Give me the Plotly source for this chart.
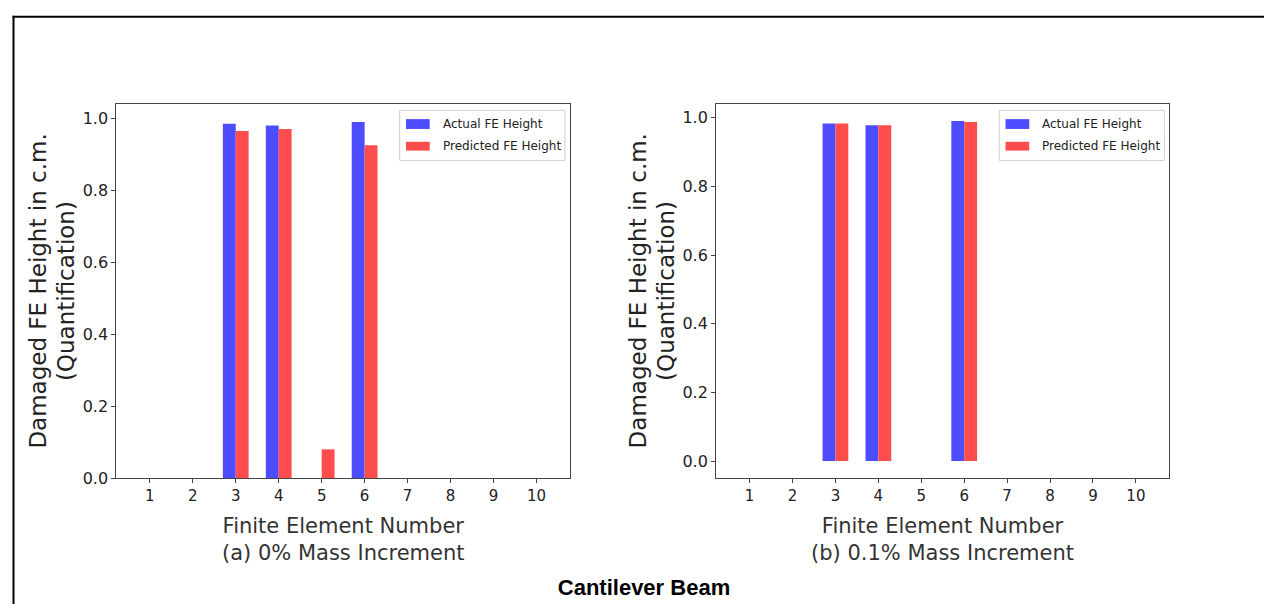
import plotly.graph_objects as go

# ---------------- data ----------------
elements = [1, 2, 3, 4, 5, 6, 7, 8, 9, 10]
actual_a = [0, 0, 0.985, 0.980, 0, 0.990, 0, 0, 0, 0]
predicted_a = [0, 0, 0.965, 0.970, 0.080, 0.925, 0, 0, 0, 0]
actual_b = [0, 0, 0.983, 0.978, 0, 0.990, 0, 0, 0, 0]
predicted_b = [0, 0, 0.983, 0.978, 0, 0.987, 0, 0, 0, 0]
series_names = ["Actual FE Height", "Predicted FE Height"]
subtitles = ["Finite Element Number<br>(a) 0% Mass Increment",
             "Finite Element Number<br>(b) 0.1% Mass Increment"]
y_title_1 = "Damaged FE Height in c.m."
y_title_2 = "(Quantification)"
main_title = "Cantilever Beam"
y_ticks = [0, 0.2, 0.4, 0.6, 0.8, 1.0]
y_tick_text = ["0.0", "0.2", "0.4", "0.6", "0.8", "1.0"]

BLUE = "#4d4dff"
RED = "#ff4d4d"
W, H = 1272, 606
FONT = "DejaVu Sans, Verdana, sans-serif"

fig = go.Figure()
for i, (act, pred) in enumerate([(actual_a, predicted_a), (actual_b, predicted_b)]):
    xa = "x" if i == 0 else "x2"
    ya = "y" if i == 0 else "y2"
    fig.add_trace(go.Bar(x=elements, y=act, name=series_names[0], marker_color=BLUE,
                         marker_line_width=0, xaxis=xa, yaxis=ya, showlegend=False))
    fig.add_trace(go.Bar(x=elements, y=pred, name=series_names[1], marker_color=RED,
                         marker_line_width=0, xaxis=xa, yaxis=ya, showlegend=False))

ydom = [1 - 478 / H, 1 - 97.7 / H]
axis_common = dict(showline=True, mirror=True, linecolor="#444", linewidth=1,
                   ticks="outside", ticklen=4, tickcolor="#444", showgrid=False,
                   zeroline=False)
fig.update_layout(
    width=W, height=H,
    margin=dict(l=0, r=0, t=0, b=0),
    paper_bgcolor="white", plot_bgcolor="white",
    barmode="group", bargap=0.4, bargroupgap=0,
    xaxis=dict(domain=[108.3 / W, 562 / W], range=[0.22, 10.78], tickvals=elements,
               tickfont=dict(family=FONT, size=15, color="#222"), anchor="y", **axis_common),
    yaxis=dict(domain=ydom, range=[0, 1.0395], tickvals=y_ticks, ticktext=y_tick_text,
               tickfont=dict(family=FONT, size=16, color="#222"), anchor="x", **axis_common),
    xaxis2=dict(domain=[708.1 / W, 1161.4 / W], range=[0.22, 10.78], tickvals=elements,
                tickfont=dict(family=FONT, size=15, color="#222"), anchor="y2", **axis_common),
    yaxis2=dict(domain=ydom, range=[-0.0495, 1.0395], tickvals=y_ticks, ticktext=y_tick_text,
                tickfont=dict(family=FONT, size=16, color="#222"), anchor="x2", **axis_common),
    title=dict(text="<b>" + main_title + "</b>", x=0.5, xref="paper", xanchor="center",
               y=1 - 589 / H, yref="paper", yanchor="middle",
               font=dict(family="Liberation Sans, Arial, sans-serif", size=22, color="black")),
)

annotations = []
shapes = []
for i, (xd, yd, xoff) in enumerate([("x domain", "y domain", 0), ("x2 domain", "y2 domain", 599.8)]):
    # x-axis title
    annotations.append(dict(text=subtitles[i], xref=xd, x=0.5, yref="paper", y=1 - 512 / H,
                            xanchor="center", yanchor="top", showarrow=False, align="center",
                            font=dict(family=FONT, size=21, color="#333")))
    # y-axis title (two lines)
    for txt, px in [(y_title_1, 30.5), (y_title_2, 58)]:
        annotations.append(dict(text=txt, xref="paper", x=(px + xoff) / W, yref=yd, y=0.5,
                                xanchor="center", yanchor="middle", textangle=-90,
                                showarrow=False, font=dict(family=FONT, size=23, color="#222")))
    # legend box
    shapes.append(dict(type="rect", xref=xd, yref=yd, x0=0.6246, x1=0.9888, y0=0.8493, y1=0.9834,
                       line=dict(color="#d0d0d0", width=1), fillcolor="rgba(255,255,255,0.8)",
                       layer="above"))
    for j, (col, sy0, sy1, ty) in enumerate([(BLUE, 0.9335, 0.9598, 0.9466),
                                             (RED, 0.8756, 0.8993, 0.8875)]):
        shapes.append(dict(type="rect", xref=xd, yref=yd, x0=0.6385, x1=0.6908, y0=sy0, y1=sy1,
                           line=dict(width=0), fillcolor=col, layer="above"))
        annotations.append(dict(text=series_names[j], xref=xd, x=0.715, yref=yd, y=ty,
                                xanchor="left", yanchor="middle", showarrow=False,
                                font=dict(family=FONT, size=12, color="#222")))

# page frame (left and top border)
shapes.append(dict(type="line", xref="paper", yref="paper", x0=5.5 / W, x1=5.5 / W,
                   y0=0, y1=1 - 8 / H, line=dict(color="black", width=2)))
shapes.append(dict(type="line", xref="paper", yref="paper", x0=4.5 / W, x1=1,
                   y0=1 - 9 / H, y1=1 - 9 / H, line=dict(color="black", width=2)))

fig.update_layout(annotations=annotations, shapes=shapes)
fig.write_html("out.html")
